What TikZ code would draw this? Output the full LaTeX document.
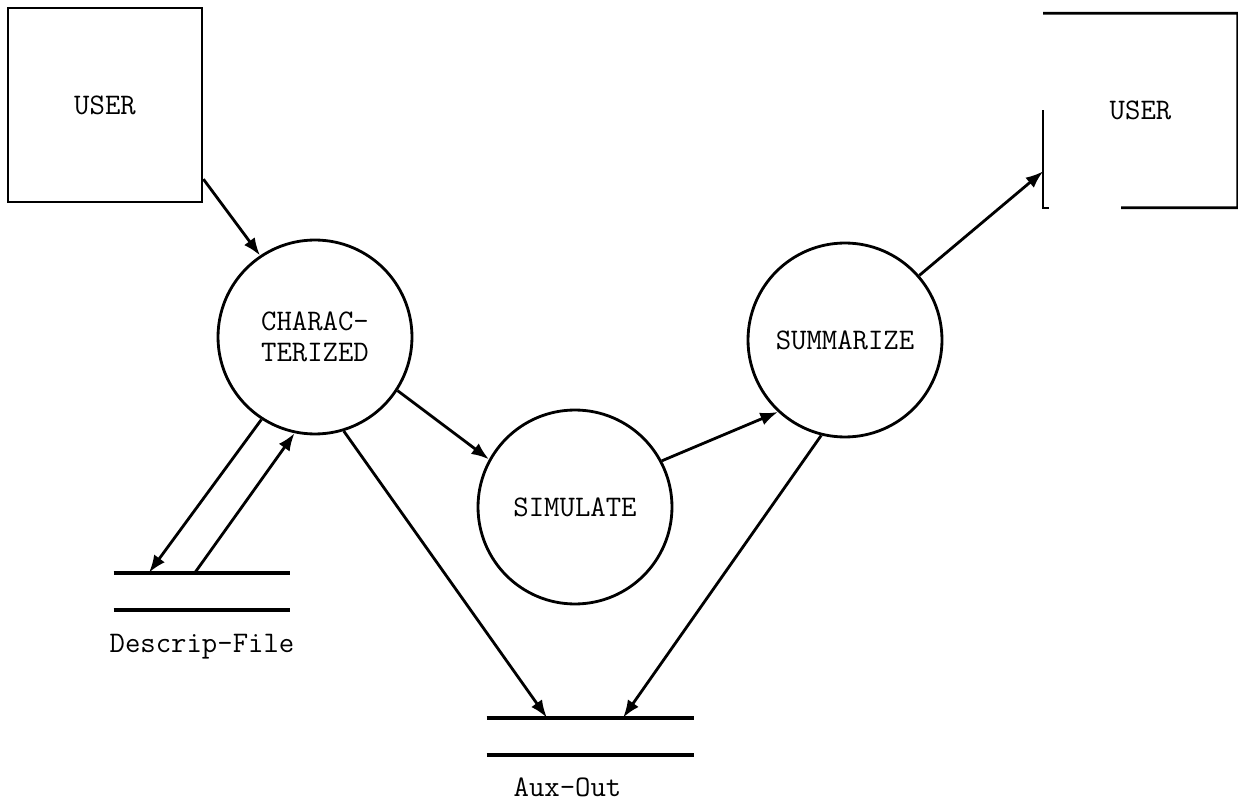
\documentclass[tikz,border=0pt]{standalone}
\usetikzlibrary{arrows.meta,positioning,calc}

\begin{document}
\begin{tikzpicture}[x=0.02cm,y=-0.02cm,>={Latex[length=10pt,width=7.5pt]},
    every node/.style={font=\ttfamily\fontsize{17}{18}\selectfont},
    proc/.style={draw,circle,line width=1.6pt,minimum size=3.88cm,inner sep=0pt,align=center},
    ext/.style={rectangle,minimum size=3.88cm,inner sep=0pt},
    store/.style={minimum width=#1,minimum height=0.74cm,inner sep=0pt},
    flow/.style={->,line width=1.6pt}]
    \useasboundingbox (0,0) rectangle (1238,804);

    \node[ext,draw,line width=1.6pt] (userL) at (105,105) {USER};
    \node[ext] (userR) at (1140.5,110.5) {USER};
    \node[proc] (char) at (315,337) {CHARAC-\\TERIZED};
    \node[proc] (sim) at (575,507) {SIMULATE};
    \node[proc] (summ) at (845,340) {SUMMARIZE};
    \node[store=3.52cm] (dfile) at (202,591.5) {};
    \node[store=4.14cm] (aux) at (590.5,736.5) {};
    \node[inner sep=0pt,below=0.48cm of dfile] (dlabel) {Descrip-File};
    \node[inner sep=0pt,below=0.44cm of aux,xshift=-0.46cm] (alabel) {Aux-Out};

    % the right box is only partly drawn
    \draw[line width=1.6pt] (userR.north west) -- (userR.north east) -- (userR.south east)
        -- ($(userR.south west)!0.4!(userR.south east)$);
    \draw[line width=1pt] (userR.west) -- (userR.south west) -- ++(6,0);

    \draw[line width=2.2pt] (dfile.north west) -- (dfile.north east)
        (dfile.south west) -- (dfile.south east);
    \draw[line width=2.2pt] (aux.north west) -- (aux.north east)
        (aux.south west) -- (aux.south east);

    \draw[flow] (userL.-37) -- (char.124);
    \draw[flow] (char.-33.5) -- (sim.151.6);
    \draw[flow] (sim.28) -- (summ.-133);
    \draw[flow] (summ.41.7) -- (userR.-148);
    \draw[flow] (char.-123) -- ($(dfile.north west)!0.2!(dfile.north east)$);
    \draw[flow] ($(dfile.north west)!0.46!(dfile.north east)$) -- (char.-102);
    \draw[flow] (char.-73.7) -- ($(aux.north west)!0.29!(aux.north east)$);
    \draw[flow] (summ.-104.7) -- ($(aux.north west)!0.657!(aux.north east)$);
\end{tikzpicture}
\end{document}
